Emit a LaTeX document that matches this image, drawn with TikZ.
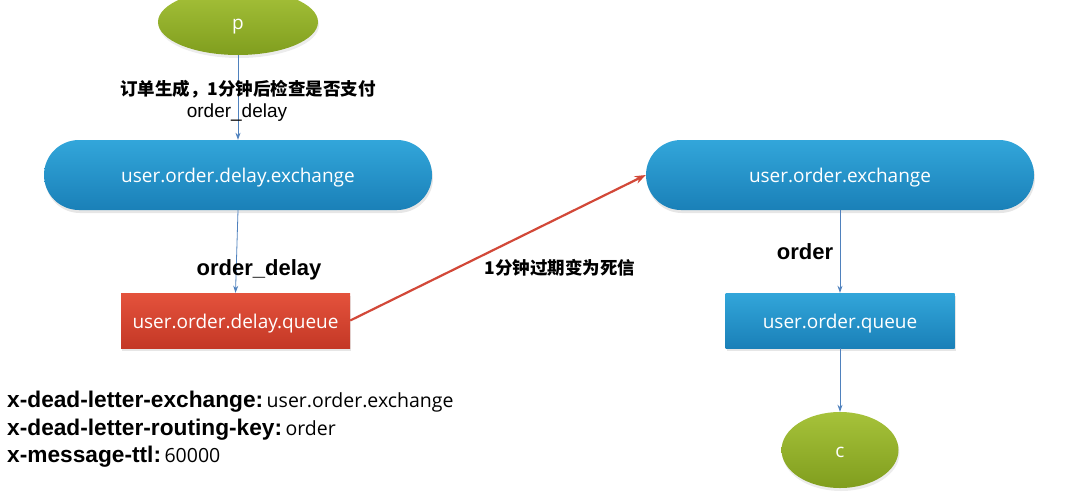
\documentclass[tikz,border=0pt]{standalone}
\usepackage{fontspec}
\setmainfont{Open Sans}
\newfontfamily\keyfont{Liberation Sans}
\newfontfamily\cjkfont{Noto Sans CJK SC}
\usetikzlibrary{shapes.geometric, arrows.meta, positioning, shadows}
\definecolor{extop}{RGB}{50,166,218}
\definecolor{exbottom}{RGB}{26,128,184}
\definecolor{redtop}{RGB}{228,82,60}
\definecolor{redbottom}{RGB}{196,56,38}
\definecolor{greentop}{RGB}{166,194,58}
\definecolor{greenbottom}{RGB}{128,158,30}
\definecolor{flowblue}{RGB}{79,129,189}
\definecolor{deadred}{RGB}{210,72,56}

\begin{document}
\begin{tikzpicture}[x=1pt, y=-1pt,
    boxtext/.style={text=white, font=\fontsize{19}{22}\selectfont, text height=15pt, text depth=0pt},
    exchange/.style={boxtext, rectangle, rounded corners=35pt, minimum width=388pt, minimum height=70pt,
        top color=extop, bottom color=exbottom, drop shadow={opacity=0.2, shadow xshift=1pt, shadow yshift=-3pt}},
    queue/.style={boxtext, rectangle, minimum width=229pt, minimum height=55pt,
        drop shadow={opacity=0.2, shadow xshift=1pt, shadow yshift=-3pt}},
    client/.style={boxtext, ellipse, top color=greentop, bottom color=greenbottom,
        drop shadow={opacity=0.15, shadow xshift=1pt, shadow yshift=-3pt}},
    flow/.style={draw=flowblue, line width=0.8pt, -{Stealth[length=7pt, width=5pt]}},
    keylabel/.style={font=\keyfont\bfseries\fontsize{22}{26}\selectfont},
    cjklabel/.style={font=\cjkfont\bfseries\fontsize{17.5}{21}\selectfont}]
    \useasboundingbox (0,0) rectangle (1075,501);

    % Producer side
    \node[client, minimum width=160pt, minimum height=66pt] (p) at (238,22) {p};
    \node[exchange] (dx) at (238,175) {user.order.delay.exchange};
    \node[queue, top color=redtop, bottom color=redbottom] (dq) at (235.5,320.5) {user.order.delay.queue};

    % Consumer side
    \node[exchange] (ox) at (840,175) {user.order.exchange};
    \node[queue, top color=extop, bottom color=exbottom] (oq) at (840,320.5) {user.order.queue};
    \node[client, minimum width=117pt, minimum height=76pt] (c) at (840,450) {c};

    % Connectors
    \draw[flow] (p) -- (dx);
    \draw[flow] (dx.south) -- (dq.north);
    \draw[flow] (ox) -- (oq);
    \draw[flow] (oq) -- (c);
    \draw[draw=deadred, line width=2.2pt, -{Stealth[length=11pt, width=8pt]}] (dq.east) -- (ox.west);

    % Labels
    \node[cjklabel] (note) at (248,89) {订单生成，1分钟后检查是否支付};
    \node[font=\keyfont\fontsize{19}{22}\selectfont] (dkey) at (237,113) {order\_delay};
    \node[keylabel] (dbind) at (259,270) {order\_delay};
    \node[keylabel] (obind) at (805,252) {order};
    \node[cjklabel] (dead) at (560,268) {1分钟过期变为死信};

    % Queue arguments
    \node[anchor=base west, inner sep=0pt] (arg1) at (7,407)
        {{\keyfont\bfseries\fontsize{22.7}{26}\selectfont x-dead-letter-exchange:} {\fontsize{19.5}{22}\selectfont user.order.exchange}};
    \node[anchor=base west, inner sep=0pt] (arg2) at (7,435)
        {{\keyfont\bfseries\fontsize{22.7}{26}\selectfont x-dead-letter-routing-key:} {\fontsize{19.5}{22}\selectfont order}};
    \node[anchor=base west, inner sep=0pt] (arg3) at (7,462)
        {{\keyfont\bfseries\fontsize{22.7}{26}\selectfont x-message-ttl:} {\fontsize{19.5}{22}\selectfont 60000}};
\end{tikzpicture}
\end{document}
